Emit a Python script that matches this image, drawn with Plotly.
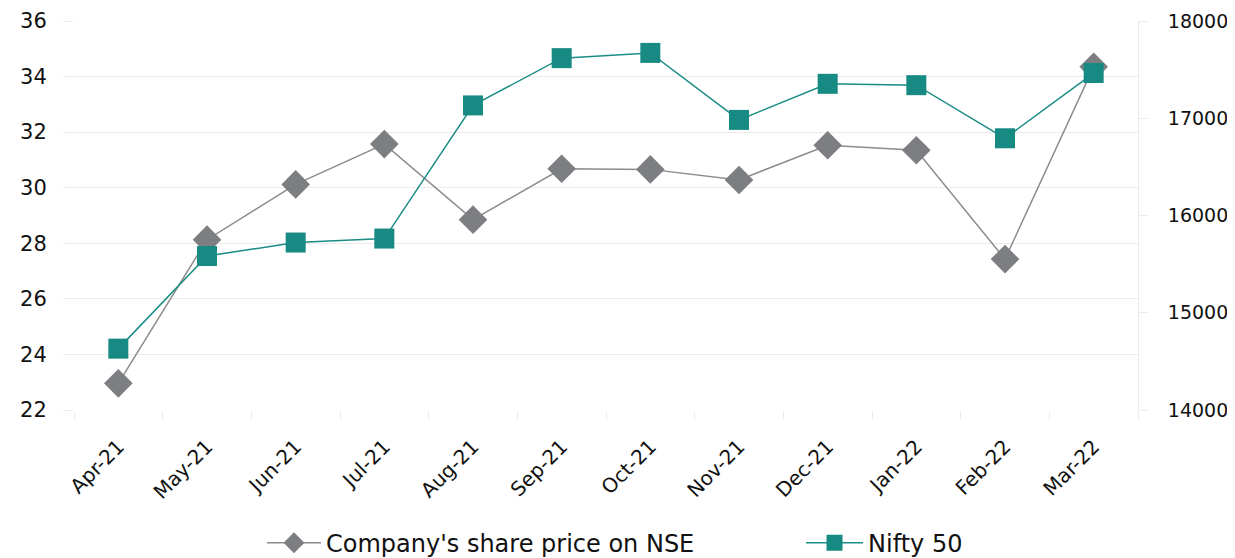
import plotly.graph_objects as go

months = ["Apr-21", "May-21", "Jun-21", "Jul-21", "Aug-21", "Sep-21",
          "Oct-21", "Nov-21", "Dec-21", "Jan-22", "Feb-22", "Mar-22"]
company_price = [22.96, 28.13, 30.12, 31.57, 28.85, 30.68,
                 30.66, 30.28, 31.53, 31.35, 27.43, 34.35]
nifty50 = [14631, 15583, 15722, 15763, 17132, 17618,
           17672, 16983, 17354, 17340, 16794, 17465]

left_ticks = [22, 24, 26, 28, 30, 32, 34, 36]
right_ticks = [14000, 15000, 16000, 17000, 18000]

FONT = "DejaVu Sans"
GRID = "#ebebeb"
TXT = "#111111"

fig = go.Figure()
fig.add_trace(go.Scatter(
    x=months, y=company_price, name="Company's share price on NSE",
    mode="lines+markers",
    line=dict(color="#8c8c8c", width=1.5),
    marker=dict(symbol="diamond", size=22, color="#7d7e82"),
    yaxis="y", legend="legend"))
fig.add_trace(go.Scatter(
    x=months, y=nifty50, name="Nifty 50",
    mode="lines+markers",
    line=dict(color="#1b8c85", width=1.5),
    marker=dict(symbol="square", size=20, color="#178a83"),
    yaxis="y2", legend="legend2"))

legend_common = dict(orientation="h", xref="container", yref="container",
                     xanchor="left", y=0.027, yanchor="middle",
                     bgcolor="rgba(0,0,0,0)",
                     font=dict(size=24, family=FONT, color=TXT))

# page body has an 8px margin, so the figure is 8px smaller and margins compensate
fig.update_layout(
    width=1227, height=550,
    paper_bgcolor="white", plot_bgcolor="white",
    margin=dict(l=66, r=97, t=13, b=148, autoexpand=False),
    font=dict(family=FONT, color=TXT),
    showlegend=True,
    legend=dict(x=0.207, itemwidth=54, **legend_common),
    legend2=dict(x=0.6463, itemwidth=57, **legend_common),
    xaxis=dict(type="category", categoryorder="array", categoryarray=months,
               showgrid=False, showline=False, zeroline=False, automargin=False,
               ticks="outside", tickson="boundaries", ticklen=9, tickcolor=GRID,
               tickangle=-45, ticklabelstandoff=20, ticklabelshift=0,
               tickfont=dict(size=20, family=FONT, color=TXT),
               range=[-0.5, 11.5]),
    yaxis=dict(range=[22, 36], tickvals=left_ticks, showgrid=True, gridcolor=GRID,
               gridwidth=1, zeroline=False, showline=False, automargin=False,
               ticks="outside", ticklen=10, tickcolor=GRID,
               ticklabelstandoff=12,
               tickfont=dict(size=21, family=FONT, color=TXT)),
    yaxis2=dict(range=[14000, 18000], tickvals=right_ticks, tickformat="d",
                overlaying="y", side="right", automargin=False,
                showgrid=False, zeroline=False, showline=True, linecolor=GRID,
                ticks="outside", ticklen=9, tickcolor=GRID,
                ticklabelstandoff=16,
                tickfont=dict(size=19, family=FONT, color=TXT)),
)

fig.write_html("out.html")
